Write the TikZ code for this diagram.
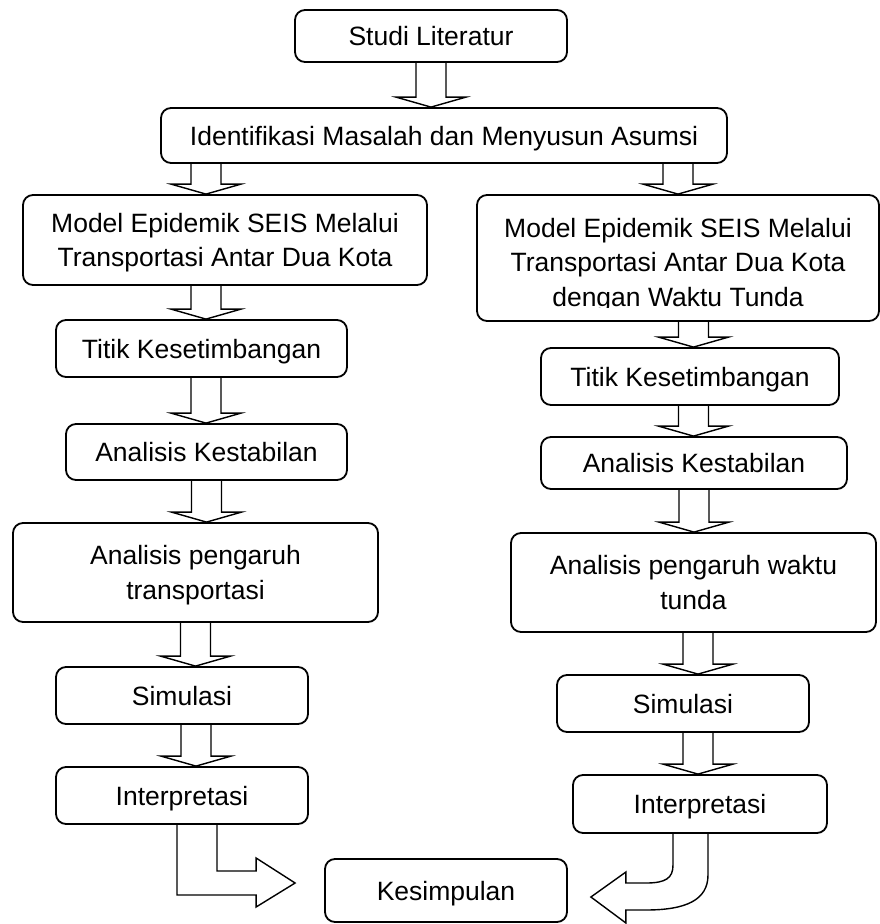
\documentclass[tikz,border=0pt]{standalone}
\usepackage{fontspec}
\setmainfont{Liberation Sans}
\usetikzlibrary{calc}

\begin{document}
\begin{tikzpicture}[x=1pt, y=-1pt,
        txt/.style={align=center, inner sep=0pt, text depth=0pt, font=\fontsize{26.5}{34.5}\selectfont},
        box/.style={txt, draw, line width=1.8pt, rounded corners=10pt},
        hollow/.style={draw, line width=1.4pt, line join=miter}]
                \useasboundingbox (0,0) rectangle (880,924);

                \node[box, minimum width=272pt, minimum height=52pt] (S) at (431,36) {Studi Literatur};
                \node[box, minimum width=566pt, minimum height=55pt] (I) at (444,135.5) {Identifikasi Masalah dan Menyusun Asumsi};

                % kiri
                \node[box, minimum width=404pt, minimum height=90pt] (L1) at (225,240) {Model Epidemik SEIS Melalui\\Transportasi Antar Dua Kota};
                \node[box, minimum width=291pt, minimum height=57pt] (L2) at (201.5,348.5) {Titik Kesetimbangan};
                \node[box, minimum width=281pt, minimum height=56pt] (L3) at (206.5,452) {Analisis Kestabilan};
                \node[box, minimum width=365pt, minimum height=99pt] (L4) at (195.5,572.5) {Analisis pengaruh\\transportasi};
                \node[box, minimum width=252pt, minimum height=57pt] (L5) at (182,695.5) {Simulasi};
                \node[box, minimum width=252pt, minimum height=57pt] (L6) at (182,795.5) {Interpretasi};

                % kanan
                \node[box, minimum width=402pt, minimum height=126pt] (R1) at (678,258) {};
                \begin{scope}
                        \clip (R1.north west) rectangle ([yshift=14pt]R1.south east);
                        \node[txt] (R1t) at ([yshift=-4pt]R1.center) {Model Epidemik SEIS Melalui\\Transportasi Antar Dua Kota\\dengan Waktu Tunda};
                \end{scope}
                \node[box, minimum width=298pt, minimum height=57pt] (R2) at (690,376.5) {Titik Kesetimbangan};
                \node[box, minimum width=306pt, minimum height=52pt] (R3) at (694,463) {Analisis Kestabilan};
                \node[box, minimum width=365pt, minimum height=99pt] (R4) at (693.5,582.5) {Analisis pengaruh waktu\\tunda};
                \node[box, minimum width=252pt, minimum height=57pt] (R5) at (683,703.5) {Simulasi};
                \node[box, minimum width=254pt, minimum height=58pt] (R6) at (700,804) {Interpretasi};

                \node[box, minimum width=242pt, minimum height=63pt] (K) at (446,890.5) {Kesimpulan};

                % panah
                \foreach \a/\b/\d in {S/I/0, I/L1/-238, I/R1/234, L1/L2/-19, L2/L3/4.5, L3/L4/0, L4/L5/0, L5/L6/14,
                                      R1/R2/15.5, R2/R3/3.5, R3/R4/0, R4/R5/4.5, R5/R6/15}
                        \draw[hollow] ($(\a.south)+(\d-15,0)$) -- ($(\a.south |- \b.north)+(\d-15,-10)$)
                                -- ($(\a.south |- \b.north)+(\d-35,-10)$) -- ($(\a.south |- \b.north)+(\d,0)$)
                                -- ($(\a.south |- \b.north)+(\d+35,-10)$) -- ($(\a.south |- \b.north)+(\d+15,-10)$)
                                -- ($(\a.south)+(\d+15,0)$);

                \draw[hollow] ($(L6.south)+(-5,0)$) -- ($(L6.south |- K.west)+(-5,4.5)$) -- ($(K.west)+(-68,4.5)$)
                        -- ($(K.west)+(-68,16.5)$) -- ($(K.west)+(-29,-7.5)$) -- ($(K.west)+(-68,-32.5)$)
                        -- ($(K.west)+(-68,-19.5)$) -- ($(L6.south |- K.west)+(35,-19.5)$) -- ($(L6.south)+(35,0)$);

                \draw[hollow] ($(R6.south)+(-27,0)$) -- ($(R6.south |- K.east)+(-27,-25.5)$)
                        .. controls ($(R6.south |- K.east)+(-27,-12.5)$) and ($(K.east)+(98,-7.5)$) .. ($(K.east)+(78,-7.5)$)
                        -- ($(K.east)+(58,-7.5)$) -- ($(K.east)+(58,-18.5)$) -- ($(K.east)+(23,6.5)$)
                        -- ($(K.east)+(58,32.5)$) -- ($(K.east)+(58,19.5)$) -- ($(K.east)+(78,19.5)$)
                        .. controls ($(K.east)+(118,19.5)$) and ($(R6.south |- K.east)+(8,9.5)$) .. ($(R6.south |- K.east)+(8,-15.5)$)
                        -- ($(R6.south)+(8,0)$);
\end{tikzpicture}
\end{document}
